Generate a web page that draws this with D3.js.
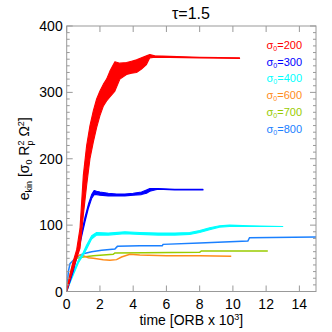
<!DOCTYPE html>
<html>
<head>
<meta charset="utf-8">
<title>ekin vs time</title>
<script src="https://d3js.org/d3.v7.min.js"></script>
<style>
body { margin: 0; background: #fff; }
text { font-family: "Liberation Sans", Arial, sans-serif; }
</style>
</head>
<body>
<script type="text/javascript">

var width = 332,
    height = 332;

var margin = { left: 66.7, right: 16, top: 26, bottom: 40.5 };

// sigma_0 = 200 (band: upper / lower envelope)
var tRed  = [0, 0.2, 0.4, 0.6, 0.8, 1.0, 1.2, 1.4, 1.6, 1.8, 2.0, 2.2, 2.4, 2.6, 2.9, 3.2, 3.6, 3.9, 4.2, 4.5, 4.8, 5.0, 5.3, 8, 10.4];
var redHi = [0, 26, 46, 63, 95, 175, 220, 250, 272, 290, 302, 312, 320, 332, 346, 344, 345, 347, 349, 352, 355, 357, 355, 353, 352];
var redLo = [0, 18, 34, 50, 65, 115, 160, 200, 225, 247, 265, 279, 287, 293, 302, 320, 327, 329, 330, 335, 342, 352, 353, 352, 351];

// sigma_0 = 300
var tBlue  = [0, 0.2, 0.4, 0.6, 0.75, 0.9, 1.1, 1.3, 1.5, 1.65, 1.8, 2.0, 2.5, 3.0, 3.5, 4.0, 4.5, 4.8, 5.0, 5.3, 5.5, 6.5, 8.2];
var blueHi = [0, 19, 36, 57, 72, 89, 112, 131, 146, 152, 151, 150, 148, 147, 147, 148, 150, 153, 155, 155, 155, 154, 154];
var blueLo = [0, 15, 31, 51, 66, 83, 105, 125, 140, 146, 146, 145, 144, 144, 144, 145, 146, 148, 151, 153, 154, 153, 153];

// sigma_0 = 400
var tCyan  = [0, 0.2, 0.4, 0.7, 1.0, 1.2, 1.5, 1.8, 2.5, 3.5, 4.4, 5.5, 6.5, 7.4, 8.0, 8.6, 9.2, 9.8, 11, 13.0];
var cyanHi = [0, 16, 29, 47, 59, 70, 84, 89, 88, 90, 89, 88, 88, 89, 92, 96, 99, 100, 99, 98];
var cyanLo = [0, 13, 25, 43, 55, 64, 79, 85, 85, 87, 86, 85, 85, 86, 89, 93, 97, 98, 98, 98];

// sigma_0 = 600
var tOrange = [0, 0.1, 0.2, 0.4, 0.6, 0.8, 1.0, 1.3, 1.6, 2.2, 2.6, 3.0, 3.3, 3.8, 4.4, 6, 8, 9.9];
var vOrange = [0, 15, 25, 45, 53, 55, 54, 51, 50, 48, 47, 48, 52, 56, 55, 54, 54, 53];

// sigma_0 = 700
var tGreen = [0, 0.1, 0.2, 0.4, 0.6, 1.0, 1.6, 2.8, 2.9, 8.0, 8.1, 12.1];
var vGreen = [0, 12, 22, 40, 50, 52, 54, 56, 58, 59, 61, 61];

// sigma_0 = 800
var tDodger = [0, 0.1, 0.2, 0.4, 0.6, 1.0, 1.5, 2.1, 2.9, 3.05, 4.4, 5.75, 5.8, 8.0, 10.9, 11.0, 15];
var vDodger = [0, 30, 42, 47, 52, 57, 60, 62, 64, 68, 69, 69, 71, 73, 76, 81, 82];

var sigmas = ["200", "300", "400", "600", "700", "800"];
var colors = ["#ff0000", "#0000ff", "#00ffff", "#ff8c1a", "#99cc00", "#1a80ff"];

var xTicks = [0, 2, 4, 6, 8, 10, 12, 14];
var yTicks = [0, 100, 200, 300, 400];

var bands = [
  { t: tRed, hi: redHi, lo: redLo, color: colors[0] },
  { t: tBlue, hi: blueHi, lo: blueLo, color: colors[1] },
  { t: tCyan, hi: cyanHi, lo: cyanLo, color: colors[2] }
];
var lines = [
  { t: tOrange, v: vOrange, color: colors[3] },
  { t: tGreen, v: vGreen, color: colors[4] },
  { t: tDodger, v: vDodger, color: colors[5] }
];

var svg = d3.select("body").append("svg")
    .attr("width", width)
    .attr("height", height);

var x = d3.scaleLinear().domain([0, 15]).range([margin.left, width - margin.right]);
var y = d3.scaleLinear().domain([0, 400]).range([height - margin.bottom, margin.top]);

var plot = svg.append("g");

// lines first, bands on top
var lineGen = d3.line().x(d => x(d[0])).y(d => y(d[1]));
lines.slice().reverse().forEach(function(s) {
  plot.append("path")
    .attr("d", lineGen(s.t.map((t, i) => [t, s.v[i]])))
    .attr("fill", "none")
    .attr("stroke", s.color)
    .attr("stroke-width", 1.5);
});

var areaGen = d3.area()
    .x(d => x(d.t))
    .y0(d => y(d.lo))
    .y1(d => y(d.hi));
bands.slice().reverse().forEach(function(s) {
  var pts = s.t.map((t, i) => ({ t: t, hi: s.hi[i], lo: s.lo[i] }));
  plot.append("path")
    .attr("d", areaGen(pts))
    .attr("fill", s.color)
    .attr("stroke", s.color)
    .attr("stroke-width", 1.1)
    .attr("stroke-linejoin", "round");
});

// frame + ticks
var axisColor = "#999";
var x0 = x.range()[0], x1 = x.range()[1], y0 = y.range()[0], y1 = y.range()[1];

svg.append("rect")
    .attr("x", x0).attr("y", y1)
    .attr("width", x1 - x0).attr("height", y0 - y1)
    .attr("fill", "none")
    .attr("stroke", axisColor)
    .attr("stroke-width", 1);

var minorY = d3.range(0, 401, 10).filter(v => v % 100 !== 0);
var tickG = svg.append("g").attr("stroke", axisColor).attr("stroke-width", 1);

xTicks.forEach(function(v) {
  tickG.append("line").attr("x1", x(v)).attr("x2", x(v)).attr("y1", y0).attr("y2", y0 - 6);
  tickG.append("line").attr("x1", x(v)).attr("x2", x(v)).attr("y1", y1).attr("y2", y1 + 6);
});
yTicks.forEach(function(v) {
  tickG.append("line").attr("x1", x0).attr("x2", x0 + 6).attr("y1", y(v)).attr("y2", y(v));
  tickG.append("line").attr("x1", x1).attr("x2", x1 - 6).attr("y1", y(v)).attr("y2", y(v));
});
minorY.forEach(function(v) {
  tickG.append("line").attr("x1", x0).attr("x2", x0 + 3).attr("y1", y(v)).attr("y2", y(v));
  tickG.append("line").attr("x1", x1).attr("x2", x1 - 3).attr("y1", y(v)).attr("y2", y(v));
});

// tick labels
svg.append("g").selectAll("text")
    .data(xTicks)
    .enter().append("text")
    .attr("x", d => x(d))
    .attr("y", y0 + 17.5)
    .attr("text-anchor", "middle")
    .style("font-size", "14px")
    .text(d => d);

svg.append("g").selectAll("text")
    .data(yTicks)
    .enter().append("text")
    .attr("x", x0 - 4)
    .attr("y", d => y(d) + 5)
    .attr("text-anchor", "end")
    .style("font-size", "14px")
    .text(d => d);

// title
svg.append("text")
    .attr("x", 191)
    .attr("y", 19)
    .attr("text-anchor", "middle")
    .style("font-size", "16px")
    .text("\u03c4=1.5");

// x label
var xl = svg.append("text")
    .attr("x", (x0 + x1) / 2)
    .attr("y", 325)
    .attr("text-anchor", "middle")
    .style("font-size", "14px");
xl.append("tspan").text("time [ORB x 10");
xl.append("tspan").attr("dy", -5).style("font-size", "9px").text("3");
xl.append("tspan").attr("dy", 5).text("]");

// y label
var yl = svg.append("text")
    .attr("transform", "translate(29," + ((y0 + y1) / 2) + ") rotate(-90)")
    .attr("text-anchor", "middle")
    .style("font-size", "14px");
yl.append("tspan").text("e");
yl.append("tspan").attr("dy", 3).style("font-size", "9px").text("kin");
yl.append("tspan").attr("dy", -3).text(" [\u03c3");
yl.append("tspan").attr("dy", 3).style("font-size", "9px").text("0");
yl.append("tspan").attr("dy", -3).text(" R");
yl.append("tspan").attr("dy", -5).style("font-size", "9px").text("2");
yl.append("tspan").attr("dx", -5).attr("dy", 9).style("font-size", "9px").text("p");
yl.append("tspan").attr("dy", -4).text(" \u03a9");
yl.append("tspan").attr("dy", -5).style("font-size", "9px").text("2");
yl.append("tspan").attr("dy", 5).text("]");

// legend
var leg = svg.append("g").selectAll("text")
    .data(sigmas)
    .enter().append("text")
    .attr("x", 302)
    .attr("y", (d, i) => 49 + i * 16.7)
    .attr("text-anchor", "end")
    .style("font-size", "11px")
    .attr("fill", (d, i) => colors[i]);
leg.append("tspan").text("\u03c3");
leg.append("tspan").attr("dy", 2).style("font-size", "7px").text("0");
leg.append("tspan").attr("dy", -2).text(d => "=" + d);

</script>
</body>
</html>
